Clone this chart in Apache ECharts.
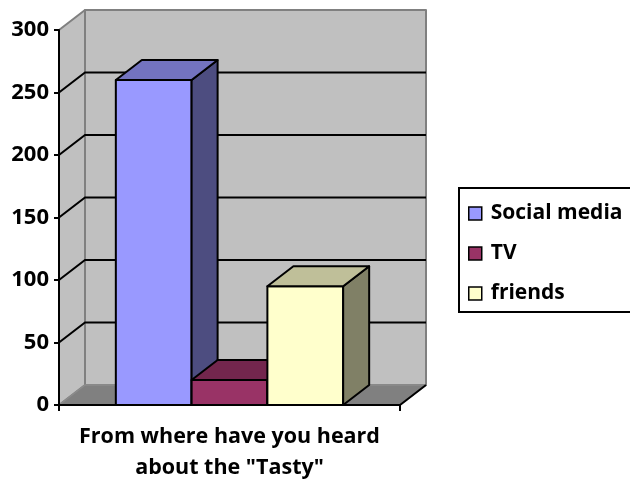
<!DOCTYPE html>
<html>
<head>
<meta charset="utf-8">
<script src="https://cdn.jsdelivr.net/npm/echarts@6/dist/echarts.min.js"></script>
<style>
  html, body { margin: 0; padding: 0; background: #fff; }
  #chart { width: 630px; height: 484px; }
</style>
</head>
<body>
<div id="chart"></div>
<script>
// Survey answers: where people heard about "Tasty"
const categories = ['From where have you heard\nabout the "Tasty"'];
const seriesNames = ['Social media', 'TV', 'friends'];
const socialMedia = [260];
const tv = [20];
const friends = [95];
const yTicks = [0, 50, 100, 150, 200, 250, 300];

const seriesValues = [socialMedia, tv, friends];

// front / top / side shading for each column
const palette = [
  { front: '#9999FF', top: '#7373BF', side: '#4D4D80' },
  { front: '#993366', top: '#73264D', side: '#4D1A33' },
  { front: '#FFFFCC', top: '#BFBF99', side: '#808066' }
];

// oblique depth of the 3D box (pixels)
const DX = 26, DY = -20;
const GAP = 1.5;           // gap width relative to a column
const FONT = '"Open Sans", sans-serif';

const chart = echarts.init(document.getElementById('chart'), null, { renderer: 'canvas' });

function poly(points, fill, stroke, lw) {
  return {
    type: 'polygon',
    shape: { points: points },
    style: { fill: fill, stroke: stroke, lineWidth: lw, lineJoin: 'round' }
  };
}

// walls and floor of the plot box
function renderWalls(params, api) {
  const cs = params.coordSys;
  const yb = api.coord([0, yTicks[0]])[1];
  const yt = api.coord([0, yTicks[yTicks.length - 1]])[1];
  const xl = cs.x, xr = cs.x + cs.width;
  return {
    type: 'group',
    children: [
      poly([[xl + DX, yt + DY], [xr + DX, yt + DY], [xr + DX, yb + DY], [xl + DX, yb + DY]], '#C0C0C0', '#808080', 2),
      poly([[xl, yb], [xl, yt], [xl + DX, yt + DY], [xl + DX, yb + DY]], '#C0C0C0', '#808080', 2),
      poly([[xl, yb], [xl + DX, yb + DY], [xr + DX, yb + DY], [xr, yb]], '#808080', '#8C8C8C', 1.5),
      { type: 'line', shape: { x1: xr, y1: yb, x2: xr + DX, y2: yb + DY }, style: { stroke: '#000', lineWidth: 2 } }
    ]
  };
}

// gridlines running along the side wall and the back wall
function renderGrid(params, api) {
  const cs = params.coordSys;
  const y = api.coord([0, api.value(1)])[1];
  const xl = cs.x, xr = cs.x + cs.width;
  return {
    type: 'polyline',
    shape: { points: [[xl, y], [xl + DX, y + DY], [xr + DX, y + DY]] },
    style: { stroke: '#000', lineWidth: 2, fill: null }
  };
}

function makeBarRenderer(idx) {
  const c = palette[idx];
  const n = seriesNames.length;
  return function (params, api) {
    const cat = api.value(0);
    const base = api.coord([cat, 0]);
    const top = api.coord([cat, api.value(1)]);
    const band = api.size([1, 0])[0];
    const bw = band / (n + GAP);
    const x0 = base[0] - bw * n / 2 + idx * bw;
    const x1 = x0 + bw;
    const yb = base[1], yt = top[1];
    return {
      type: 'group',
      children: [
        poly([[x0, yb], [x1, yb], [x1, yt], [x0, yt]], c.front, '#000', 2),
        poly([[x1, yb], [x1 + DX, yb + DY], [x1 + DX, yt + DY], [x1, yt]], c.side, '#000', 2),
        poly([[x0, yt], [x1, yt], [x1 + DX, yt + DY], [x0 + DX, yt + DY]], c.top, '#000', 2)
      ]
    };
  };
}

const series = [
  {
    type: 'custom', name: '_walls', silent: true, z: 1,
    renderItem: renderWalls,
    data: [[0, yTicks[yTicks.length - 1]]],
    encode: { x: 0, y: 1 }
  },
  {
    type: 'custom', name: '_grid', silent: true, z: 2,
    renderItem: renderGrid,
    data: yTicks.slice(1, -1).map(v => [0, v]),
    encode: { x: 0, y: 1 }
  }
];

seriesNames.forEach((name, i) => {
  series.push({
    type: 'custom',
    name: name,
    z: 3,
    renderItem: makeBarRenderer(i),
    itemStyle: { color: palette[i].front, borderColor: '#000', borderWidth: 2 },
    data: seriesValues[i].map((v, k) => [k, v]),
    encode: { x: 0, y: 1 }
  });
});

const option = {
  animation: false,
  backgroundColor: '#fff',
  grid: { left: 59, right: 230, top: 30, bottom: 79, containLabel: false },
  xAxis: {
    type: 'category',
    data: categories,
    boundaryGap: true,
    axisLine: { show: true, lineStyle: { color: '#000', width: 2 } },
    axisTick: { show: true, length: 6, lineStyle: { color: '#000', width: 2 } },
    axisLabel: {
      show: true, margin: 16, color: '#000',
      fontFamily: FONT, fontWeight: 'bold', fontSize: 21.5, lineHeight: 31
    },
    splitLine: { show: false },
    z: 10
  },
  yAxis: {
    type: 'value',
    min: yTicks[0],
    max: yTicks[yTicks.length - 1],
    interval: 50,
    axisLine: { show: true, lineStyle: { color: '#000', width: 2 } },
    axisTick: { show: true, length: 5, lineStyle: { color: '#000', width: 2 } },
    axisLabel: { margin: 10, color: '#000', fontFamily: FONT, fontWeight: 'bold', fontSize: 22 },
    splitLine: { show: false },
    z: 10
  },
  legend: {
    data: seriesNames,
    orient: 'vertical',
    left: 459,
    top: 188,
    backgroundColor: '#fff',
    borderColor: '#000',
    borderWidth: 2,
    borderRadius: 0,
    padding: [14, 40, 7, 9],
    itemWidth: 13,
    itemHeight: 13,
    itemGap: 17,
    icon: 'rect',
    itemStyle: { borderColor: '#000', borderWidth: 1.5 },
    textStyle: {
      color: '#000', fontFamily: FONT, fontWeight: 'bold', fontSize: 21,
      lineHeight: 23, padding: [0, 0, 0, 4]
    },
    selectedMode: false
  },
  series: series
};

chart.setOption(option);
</script>
</body>
</html>
